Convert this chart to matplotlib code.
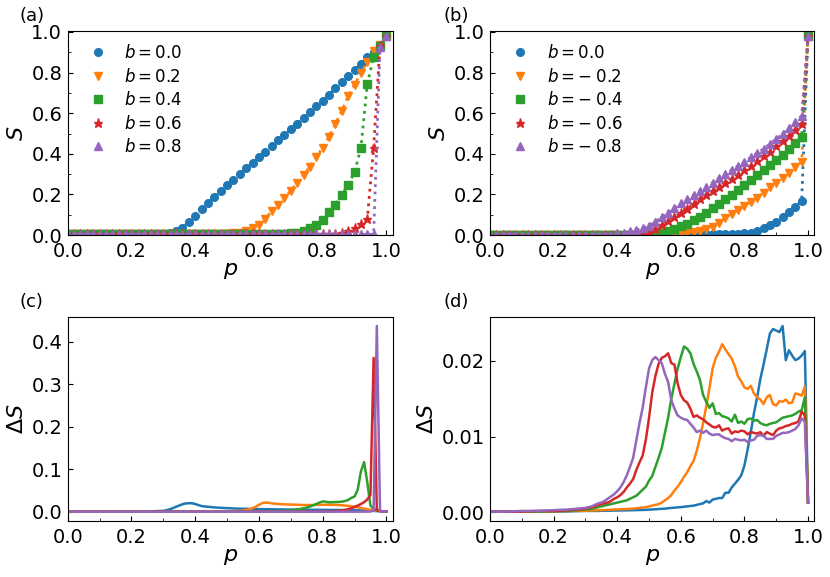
import numpy as np
import matplotlib
matplotlib.use('Agg')
import matplotlib.pyplot as plt
from matplotlib.ticker import AutoMinorLocator

# ---------------- data ----------------
# panels (a), (b): S(p) sampled every 0.02
p_ab = np.linspace(0, 1, 51)

colors = ['C0', 'C1', 'C2', 'C3', 'C4']
markers = ['o', 'v', 's', '*', '^']
labels_a = ['$b=0.0$', '$b=0.2$', '$b=0.4$', '$b=0.6$', '$b=0.8$']
labels_b = ['$b=0.0$', r'$b=-\:0.2$', r'$b=-\:0.4$', r'$b=-\:0.6$', r'$b=-\:0.8$']

S_a_b00 = [0.003, 0.003, 0.003, 0.003, 0.003, 0.003, 0.003, 0.003, 0.003, 0.003,
           0.003, 0.003, 0.003, 0.003, 0.004, 0.007, 0.012, 0.02, 0.036, 0.064,
           0.094, 0.127, 0.156, 0.186, 0.217, 0.244, 0.272, 0.301, 0.329, 0.357,
           0.384, 0.411, 0.44, 0.466, 0.494, 0.521, 0.548, 0.576, 0.606, 0.634,
           0.662, 0.691, 0.723, 0.754, 0.782, 0.811, 0.843, 0.876, 0.902, 0.935,
           0.979]
S_a_b02 = [0.003, 0.003, 0.003, 0.003, 0.003, 0.003, 0.003, 0.003, 0.003, 0.003,
           0.003, 0.003, 0.003, 0.003, 0.003, 0.003, 0.003, 0.003, 0.003, 0.003,
           0.003, 0.003, 0.003, 0.003, 0.003, 0.005, 0.008, 0.012, 0.02, 0.033,
           0.049, 0.079, 0.118, 0.148, 0.181, 0.219, 0.257, 0.296, 0.337, 0.382,
           0.431, 0.485, 0.547, 0.612, 0.683, 0.741, 0.798, 0.853, 0.905, 0.935,
           0.979]
S_a_b04 = [0.003, 0.003, 0.003, 0.003, 0.003, 0.003, 0.003, 0.003, 0.003, 0.003,
           0.003, 0.003, 0.003, 0.003, 0.003, 0.003, 0.003, 0.003, 0.003, 0.003,
           0.003, 0.003, 0.003, 0.003, 0.003, 0.003, 0.003, 0.003, 0.003, 0.003,
           0.003, 0.003, 0.003, 0.003, 0.005, 0.008, 0.012, 0.02, 0.033, 0.049,
           0.075, 0.111, 0.15, 0.198, 0.248, 0.31, 0.428, 0.744, 0.877, 0.932,
           0.979]
S_a_b06 = [0.003, 0.003, 0.003, 0.003, 0.003, 0.003, 0.003, 0.003, 0.003, 0.003,
           0.003, 0.003, 0.003, 0.003, 0.003, 0.003, 0.003, 0.003, 0.003, 0.003,
           0.003, 0.003, 0.003, 0.003, 0.003, 0.003, 0.003, 0.003, 0.003, 0.003,
           0.003, 0.003, 0.003, 0.003, 0.003, 0.003, 0.003, 0.003, 0.003, 0.003,
           0.003, 0.003, 0.005, 0.01, 0.022, 0.033, 0.052, 0.077, 0.431, 0.93,
           0.979]
S_a_b08 = [0.003, 0.003, 0.003, 0.003, 0.003, 0.003, 0.003, 0.003, 0.003, 0.003,
           0.003, 0.003, 0.003, 0.003, 0.003, 0.003, 0.003, 0.003, 0.003, 0.003,
           0.003, 0.003, 0.003, 0.003, 0.003, 0.003, 0.003, 0.003, 0.003, 0.003,
           0.003, 0.003, 0.003, 0.003, 0.003, 0.003, 0.003, 0.003, 0.003, 0.003,
           0.003, 0.003, 0.003, 0.003, 0.003, 0.003, 0.003, 0.003, 0.003, 0.925,
           0.979]

S_b_b00 = [0.002, 0.002, 0.002, 0.002, 0.002, 0.002, 0.002, 0.002, 0.002, 0.002,
           0.002, 0.002, 0.002, 0.002, 0.002, 0.002, 0.002, 0.002, 0.002, 0.002,
           0.002, 0.002, 0.002, 0.002, 0.002, 0.002, 0.002, 0.002, 0.002, 0.002,
           0.002, 0.002, 0.002, 0.002, 0.003, 0.003, 0.004, 0.004, 0.005, 0.006,
           0.008, 0.012, 0.02, 0.033, 0.049, 0.066, 0.09, 0.115, 0.14, 0.168,
           0.98]
S_b_bm02 = [0.002, 0.002, 0.002, 0.002, 0.002, 0.002, 0.002, 0.002, 0.002, 0.002,
            0.002, 0.002, 0.002, 0.002, 0.002, 0.002, 0.002, 0.002, 0.002, 0.002,
            0.002, 0.002, 0.002, 0.002, 0.002, 0.002, 0.002, 0.002, 0.003, 0.005,
            0.007, 0.01, 0.014, 0.02, 0.03, 0.041, 0.061, 0.082, 0.104, 0.123,
            0.143, 0.165, 0.184, 0.209, 0.235, 0.255, 0.28, 0.305, 0.333, 0.362,
            0.98]
S_b_bm04 = [0.002, 0.002, 0.002, 0.002, 0.002, 0.002, 0.002, 0.002, 0.002, 0.002,
            0.002, 0.002, 0.002, 0.002, 0.002, 0.002, 0.002, 0.002, 0.002, 0.002,
            0.002, 0.002, 0.002, 0.002, 0.002, 0.004, 0.007, 0.012, 0.02, 0.03,
            0.042, 0.056, 0.072, 0.09, 0.11, 0.132, 0.153, 0.175, 0.198, 0.222,
            0.247, 0.272, 0.296, 0.321, 0.346, 0.37, 0.395, 0.423, 0.453, 0.482,
            0.98]
S_b_bm06 = [0.002, 0.002, 0.002, 0.002, 0.002, 0.002, 0.002, 0.002, 0.002, 0.002,
            0.002, 0.002, 0.002, 0.002, 0.002, 0.002, 0.002, 0.002, 0.002, 0.002,
            0.002, 0.002, 0.005, 0.007, 0.01, 0.016, 0.03, 0.049, 0.069, 0.09,
            0.107, 0.13, 0.153, 0.176, 0.198, 0.219, 0.237, 0.256, 0.277, 0.297,
            0.321, 0.342, 0.365, 0.39, 0.411, 0.436, 0.461, 0.489, 0.515, 0.548,
            0.98]
S_b_bm08 = [0.002, 0.002, 0.002, 0.002, 0.002, 0.002, 0.002, 0.002, 0.002, 0.002,
            0.002, 0.002, 0.002, 0.002, 0.002, 0.002, 0.002, 0.002, 0.002, 0.002,
            0.008, 0.012, 0.018, 0.024, 0.033, 0.046, 0.066, 0.088, 0.11, 0.132,
            0.156, 0.176, 0.198, 0.219, 0.237, 0.258, 0.28, 0.30, 0.321, 0.341,
            0.362, 0.382, 0.403, 0.424, 0.448, 0.473, 0.497, 0.527, 0.555, 0.588,
            0.98]

# panels (c), (d): dS(p), coarse below 0.3, every 0.01 above
p_cd = np.concatenate([[0.0, 0.05, 0.10, 0.15, 0.20, 0.25], np.linspace(0.30, 1.00, 71)])

dS_a_b00 = [0.0005, 0.0005, 0.0005, 0.0005, 0.0006, 0.001,
            0.0025, 0.004, 0.006, 0.009, 0.012, 0.015, 0.018, 0.0198, 0.0205, 0.0203,
            0.0185, 0.016, 0.0138, 0.0128, 0.012, 0.0113, 0.0106, 0.0101, 0.0096, 0.0092,
            0.0088, 0.0085, 0.0082, 0.0079, 0.0076, 0.0074, 0.0072, 0.007, 0.0068, 0.0066,
            0.0065, 0.0064, 0.0063, 0.0062, 0.0061, 0.006, 0.0059, 0.0058, 0.0057, 0.0056,
            0.0055, 0.0054, 0.0053, 0.0053, 0.0052, 0.0051, 0.005, 0.005, 0.0049, 0.0048,
            0.0047, 0.0047, 0.0046, 0.0045, 0.0045, 0.0044, 0.0043, 0.0042, 0.0042, 0.0041,
            0.004, 0.0038, 0.0036, 0.0033, 0.003, 0.0027, 0.0023, 0.0019, 0.0015, 0.0011,
            0.0008]
dS_a_b02 = [0.0005, 0.0005, 0.0005, 0.0005, 0.0005, 0.0005,
            0.0005, 0.0005, 0.0005, 0.0005, 0.0005, 0.0005, 0.0005, 0.0005, 0.0005, 0.0005,
            0.0005, 0.0005, 0.0006, 0.0006, 0.0006, 0.0007, 0.0007, 0.0008, 0.0009, 0.001,
            0.001, 0.0012, 0.0015, 0.0019, 0.0025, 0.0033, 0.0045, 0.0062, 0.0088, 0.012,
            0.0165, 0.0205, 0.022, 0.0215, 0.0202, 0.0193, 0.0187, 0.0182, 0.0178, 0.0175,
            0.0172, 0.017, 0.0168, 0.0165, 0.0163, 0.0162, 0.0162, 0.0163, 0.0165, 0.0167,
            0.0168, 0.0168, 0.0167, 0.0166, 0.0165, 0.0162, 0.0157, 0.015, 0.0142, 0.0133,
            0.0122, 0.0108, 0.0093, 0.0078, 0.0063, 0.005, 0.0038, 0.0028, 0.002, 0.0013,
            0.0008]
dS_a_b04 = [0.0005, 0.0005, 0.0005, 0.0005, 0.0005, 0.0005,
            0.0005, 0.0005, 0.0005, 0.0005, 0.0005, 0.0005, 0.0005, 0.0005, 0.0005, 0.0005,
            0.0005, 0.0005, 0.0005, 0.0005, 0.0005, 0.0005, 0.0005, 0.0005, 0.0005, 0.0005,
            0.0005, 0.0005, 0.0006, 0.0006, 0.0006, 0.0007, 0.0007, 0.0008, 0.0008, 0.0009,
            0.0009, 0.001, 0.0011, 0.0012, 0.0013, 0.0015, 0.0017, 0.002, 0.0024, 0.003,
            0.0037, 0.0046, 0.0057, 0.007, 0.0085, 0.0102, 0.0125, 0.0155, 0.0185, 0.022,
            0.0245, 0.024, 0.0225, 0.0228, 0.0232, 0.0235, 0.024, 0.0255, 0.028, 0.033,
            0.036, 0.052, 0.095, 0.117, 0.07, 0.015, 0.007, 0.004, 0.0025, 0.0015,
            0.0008]
dS_a_b06 = [0.0005, 0.0005, 0.0005, 0.0005, 0.0005, 0.0005,
            0.0005, 0.0005, 0.0005, 0.0005, 0.0005, 0.0005, 0.0005, 0.0005, 0.0005, 0.0005,
            0.0005, 0.0005, 0.0005, 0.0005, 0.0005, 0.0005, 0.0005, 0.0005, 0.0005, 0.0005,
            0.0005, 0.0005, 0.0005, 0.0005, 0.0005, 0.0005, 0.0005, 0.0005, 0.0005, 0.0005,
            0.0005, 0.0005, 0.0005, 0.0006, 0.0006, 0.0006, 0.0006, 0.0007, 0.0007, 0.0007,
            0.0007, 0.0007, 0.0008, 0.0008, 0.0008, 0.0008, 0.0009, 0.0009, 0.0009, 0.001,
            0.001, 0.001, 0.0012, 0.0015, 0.002, 0.0026, 0.0035, 0.0048, 0.0065, 0.0088,
            0.0115, 0.0148, 0.0185, 0.0228, 0.029, 0.04, 0.362, 0.004, 0.002, 0.0012,
            0.0008]
dS_a_b08 = [0.0005, 0.0005, 0.0005, 0.0005, 0.0005, 0.0005,
            0.0005, 0.0005, 0.0005, 0.0005, 0.0005, 0.0005, 0.0005, 0.0005, 0.0005, 0.0005,
            0.0005, 0.0005, 0.0005, 0.0005, 0.0005, 0.0005, 0.0005, 0.0005, 0.0005, 0.0005,
            0.0005, 0.0005, 0.0005, 0.0005, 0.0005, 0.0005, 0.0005, 0.0005, 0.0005, 0.0005,
            0.0005, 0.0005, 0.0005, 0.0005, 0.0005, 0.0005, 0.0005, 0.0005, 0.0005, 0.0005,
            0.0005, 0.0005, 0.0005, 0.0005, 0.0005, 0.0005, 0.0005, 0.0005, 0.0005, 0.0005,
            0.0005, 0.0005, 0.0005, 0.0005, 0.0005, 0.0005, 0.0005, 0.0005, 0.0005, 0.0005,
            0.0005, 0.0005, 0.0006, 0.0006, 0.0007, 0.0008, 0.004, 0.437, 0.002, 0.001,
            0.0008]

dS_b_b00 = [0.0001, 0.0001, 0.0001, 0.0001, 0.0001, 0.00015,
            0.0002, 0.0002, 0.0002, 0.0002, 0.0002, 0.00022, 0.00022, 0.00023, 0.00024, 0.00025,
            0.00025, 0.00026, 0.00027, 0.00028, 0.00029, 0.0003, 0.00031, 0.00032, 0.00033, 0.00035,
            0.00037, 0.0004, 0.00042, 0.00045, 0.00048, 0.0005, 0.00055, 0.0006, 0.00063, 0.00067,
            0.0007, 0.00075, 0.0008, 0.00085, 0.0009, 0.001, 0.0011, 0.0012, 0.0015, 0.0013,
            0.0017, 0.0018, 0.0019, 0.0019, 0.0026, 0.0026, 0.0033, 0.0038, 0.0043, 0.0049,
            0.0062, 0.0083, 0.0106, 0.0131, 0.0152, 0.0176, 0.0195, 0.0215, 0.0236, 0.0242,
            0.024, 0.0238, 0.0246, 0.0201, 0.0214, 0.0207, 0.0201, 0.0203, 0.0207, 0.0213,
            0.0013]
dS_b_bm02 = [0.0001, 0.0001, 0.0001, 0.0001, 0.00015, 0.0002,
             0.00022, 0.00024, 0.00026, 0.00028, 0.0003, 0.0003, 0.00032, 0.00034, 0.00036, 0.00038,
             0.0004, 0.00042, 0.00044, 0.00046, 0.00048, 0.0005, 0.00055, 0.0006, 0.00065, 0.0007,
             0.0008, 0.0009, 0.001, 0.0011, 0.0013, 0.0016, 0.0019, 0.0023, 0.0029, 0.0034,
             0.004, 0.0047, 0.0053, 0.0061, 0.0068, 0.0081, 0.0098, 0.0118, 0.014, 0.0164,
             0.019, 0.0204, 0.0212, 0.0222, 0.0215, 0.0209, 0.0203, 0.0193, 0.0179, 0.0173,
             0.0165, 0.0163, 0.0167, 0.0157, 0.0152, 0.0149, 0.0143, 0.0152, 0.0155, 0.0143,
             0.0141, 0.0147, 0.0146, 0.0149, 0.0144, 0.0145, 0.0157, 0.0156, 0.0154, 0.0166,
             0.0013]
dS_b_bm04 = [0.0001, 0.0001, 0.0001, 0.0001, 0.0002, 0.0002,
             0.0004, 0.0004, 0.0005, 0.0006, 0.0007, 0.0008, 0.0009, 0.001, 0.0011, 0.0012,
             0.0013, 0.0014, 0.0015, 0.0016, 0.0018, 0.002, 0.0022, 0.0026, 0.003, 0.0034,
             0.0042, 0.0048, 0.006, 0.0072, 0.0085, 0.0105, 0.0125, 0.015, 0.017, 0.019,
             0.0205, 0.0219, 0.0216, 0.021, 0.0196, 0.0186, 0.0175, 0.0155, 0.0146, 0.0138,
             0.0144, 0.013, 0.0131, 0.0127, 0.0126, 0.0124, 0.012, 0.0129, 0.0118, 0.012,
             0.0117, 0.0123, 0.0124, 0.0121, 0.0122, 0.0118, 0.0116, 0.0115, 0.0117, 0.0118,
             0.0119, 0.0122, 0.0125, 0.0126, 0.0127, 0.0128, 0.013, 0.0133, 0.0135, 0.0152,
             0.0013]
dS_b_bm06 = [0.0001, 0.0001, 0.0001, 0.0002, 0.0002, 0.0003,
             0.0005, 0.0006, 0.0007, 0.0008, 0.001, 0.0011, 0.0012, 0.0013, 0.0015, 0.0018,
             0.002, 0.0023, 0.0027, 0.0033, 0.0038, 0.0044, 0.0056, 0.0066, 0.0075, 0.0096,
             0.0125, 0.0158, 0.018, 0.0196, 0.0204, 0.0206, 0.021, 0.0197, 0.0195, 0.017,
             0.0155, 0.0148, 0.0145, 0.0137, 0.0126, 0.0128, 0.0125, 0.0123, 0.0119, 0.0116,
             0.0113, 0.0112, 0.0115, 0.0108, 0.011, 0.0111, 0.0104, 0.0107, 0.0106, 0.0108,
             0.0107, 0.0103, 0.0106, 0.0105, 0.0104, 0.0106, 0.0101, 0.0106, 0.0104, 0.0102,
             0.0108, 0.0111, 0.0112, 0.0114, 0.0115, 0.0117, 0.0118, 0.012, 0.0133, 0.0128,
             0.0013]
dS_b_bm08 = [0.0001, 0.0001, 0.0002, 0.0002, 0.0003, 0.0004,
             0.0006, 0.0007, 0.0008, 0.001, 0.0012, 0.0013, 0.0015, 0.0018, 0.0021, 0.0024,
             0.0028, 0.0033, 0.004, 0.0049, 0.006, 0.0072, 0.0095, 0.0118, 0.0138, 0.0165,
             0.019, 0.0201, 0.0205, 0.0201, 0.0197, 0.0183, 0.0172, 0.0148, 0.0137, 0.0128,
             0.0125, 0.0123, 0.0122, 0.0117, 0.0112, 0.0106, 0.0108, 0.0105, 0.0108, 0.0104,
             0.0102, 0.0103, 0.0103, 0.01, 0.0098, 0.0097, 0.0094, 0.0097, 0.0096, 0.0095,
             0.0096, 0.0093, 0.0095, 0.0096, 0.0101, 0.0102, 0.0101, 0.0097, 0.0097, 0.0097,
             0.0101, 0.0103, 0.0105, 0.0105, 0.0106, 0.0108, 0.011, 0.0115, 0.0124, 0.012,
             0.0013]

S_a = [S_a_b00, S_a_b02, S_a_b04, S_a_b06, S_a_b08]
S_b = [S_b_b00, S_b_bm02, S_b_bm04, S_b_bm06, S_b_bm08]
dS_a = [dS_a_b00, dS_a_b02, dS_a_b04, dS_a_b06, dS_a_b08]
dS_b = [dS_b_b00, dS_b_bm02, dS_b_bm04, dS_b_bm06, dS_b_bm08]

# ---------------- figure ----------------
plt.rcParams['font.family'] = 'DejaVu Sans'
fig = plt.figure(figsize=(8.3, 5.77), dpi=100)

ax_a = fig.add_axes([0.0816, 0.5927, 0.3916, 0.3536])
ax_b = fig.add_axes([0.5904, 0.5927, 0.3908, 0.3536])
ax_c = fig.add_axes([0.0816, 0.0971, 0.3916, 0.354])
ax_d = fig.add_axes([0.5904, 0.0971, 0.3908, 0.354])


def style(ax, ylabel, yminor=False):
    ax.set_xlim(0, 1.02)
    ax.set_xticks(np.arange(0, 1.01, 0.2))
    ax.xaxis.set_minor_locator(AutoMinorLocator(2))
    if yminor:
        ax.yaxis.set_minor_locator(AutoMinorLocator(2))
    ax.tick_params(which='both', direction='in', labelsize=14)
    ax.tick_params(axis='x', pad=5)
    ax.tick_params(axis='y', pad=4)
    ax.set_xlabel('$p$', fontsize=16, labelpad=0)
    ax.set_ylabel(ylabel, fontsize=16, labelpad=3)


for ax, data, labels in [(ax_a, S_a, labels_a), (ax_b, S_b, labels_b)]:
    for s, c, m, lab in zip(data, colors, markers, labels):
        ax.plot(p_ab, s, ':', color=c, lw=2)
        ax.plot(p_ab, s, m, color=c, ms=5.5 if m != '*' else 6.5, ls='none', label=lab)
    ax.set_ylim(0, 1.005)
    ax.set_yticks(np.arange(0, 1.01, 0.2))
    style(ax, '$S$', yminor=True)
    ax.legend(loc='upper left', frameon=False, fontsize=12, handletextpad=0.6,
              labelspacing=0.33, borderaxespad=0.4)

for ax, data in [(ax_c, dS_a), (ax_d, dS_b)]:
    for d, c in zip(data, colors):
        ax.plot(p_cd, d, '-', color=c, lw=1.8)
    style(ax, r'$\Delta S$')

ax_c.set_yticks([0.0, 0.1, 0.2, 0.3, 0.4])
ax_d.set_yticks([0.0, 0.01, 0.02])

fig.text(0.024, 0.988, '(a)', fontsize=13, va='top')
fig.text(0.534, 0.988, '(b)', fontsize=13, va='top')
fig.text(0.024, 0.493, '(c)', fontsize=13, va='top')
fig.text(0.534, 0.493, '(d)', fontsize=13, va='top')

fig.savefig('out.png', dpi=100)
